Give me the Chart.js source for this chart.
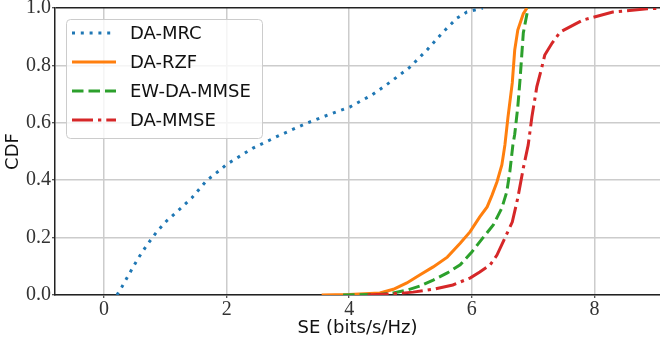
<!DOCTYPE html>
<html>
<head>
<meta charset="utf-8">
<script src="https://cdn.jsdelivr.net/npm/chart.js@4.4.1/dist/chart.umd.min.js"></script>
<style>
  html, body { margin: 0; padding: 0; background: #fff; }
  #wrap { width: 660px; height: 345px; }
</style>
</head>
<body>
<div id="wrap"><canvas id="cdf" width="660" height="345"></canvas></div>
<script>
// valores
const xTicks = [0, 2, 4, 6, 8];
const yTicks = [0, 0.2, 0.4, 0.6, 0.8, 1.0];

const mrcX = [0.21, 0.29, 0.42, 0.56, 0.70, 0.86, 1.02, 1.24, 1.43, 1.68, 1.89, 2.0, 2.43, 2.87, 3.31, 3.65, 4.01, 4.37, 4.67, 4.99, 5.27, 5.53, 5.76, 5.92, 6.18];
const mrcY = [0, 0.028, 0.077, 0.129, 0.174, 0.22, 0.258, 0.30, 0.338, 0.40, 0.435, 0.455, 0.512, 0.557, 0.599, 0.627, 0.655, 0.697, 0.742, 0.794, 0.854, 0.916, 0.965, 0.986, 1.0];

const rzfX = [3.55, 4.0, 4.50, 4.72, 4.94, 5.15, 5.37, 5.60, 5.81, 5.97, 6.13, 6.25, 6.33, 6.41, 6.49, 6.54, 6.59, 6.66, 6.70, 6.75, 6.84, 6.90];
const rzfY = [0, 0.002, 0.007, 0.02, 0.042, 0.07, 0.098, 0.132, 0.18, 0.22, 0.272, 0.307, 0.348, 0.394, 0.453, 0.523, 0.62, 0.739, 0.854, 0.923, 0.98, 1.0];

const ewX = [3.9, 4.50, 4.72, 4.94, 5.15, 5.37, 5.60, 5.81, 6.00, 6.18, 6.35, 6.49, 6.57, 6.62, 6.67, 6.70, 6.75, 6.79, 6.84, 6.90, 6.92];
const ewY = [0, 0.002, 0.007, 0.017, 0.031, 0.052, 0.077, 0.105, 0.15, 0.199, 0.244, 0.303, 0.359, 0.429, 0.523, 0.56, 0.655, 0.76, 0.913, 0.98, 1.0];

const mmseX = [4.3, 4.78, 5.04, 5.37, 5.69, 5.97, 6.13, 6.30, 6.41, 6.54, 6.66, 6.75, 6.84, 6.92, 6.98, 7.06, 7.15, 7.19, 7.31, 7.44, 7.81, 8.30, 8.86, 9.2];
const mmseY = [0, 0.005, 0.01, 0.02, 0.035, 0.059, 0.08, 0.105, 0.139, 0.199, 0.254, 0.338, 0.442, 0.523, 0.62, 0.725, 0.80, 0.836, 0.878, 0.916, 0.958, 0.986, 0.997, 1.0];

const labels = ['DA-MRC', 'DA-RZF', 'EW-DA-MMSE', 'DA-MMSE'];
const colors = ['#1f77b4', '#ff7f0e', '#2ca02c', '#d62728'];
const dashes = [[3, 5.8], [], [11.5, 5], [21, 5, 3.3, 5]];

const pts = (xs, ys) => xs.map((x, i) => ({ x: x, y: ys[i] }));
const series = [pts(mrcX, mrcY), pts(rzfX, rzfY), pts(ewX, ewY), pts(mmseX, mmseY)];

// leyenda dentro del area (como matplotlib)
const legendBox = {
  id: 'legendBox',
  afterDatasetsDraw(chart) {
    const ctx = chart.ctx;
    ctx.save();
    ctx.beginPath();
    ctx.roundRect(66.5, 19.5, 196, 119, 4);
    ctx.fillStyle = 'rgba(255,255,255,0.8)';
    ctx.fill();
    ctx.strokeStyle = '#cccccc';
    ctx.lineWidth = 1;
    ctx.stroke();
    labels.forEach((lab, i) => {
      const y = 33 + i * 29;
      ctx.beginPath();
      ctx.setLineDash(dashes[i]);
      ctx.lineCap = 'butt';
      ctx.strokeStyle = colors[i];
      ctx.lineWidth = 3;
      ctx.moveTo(72, y);
      ctx.lineTo(116, y);
      ctx.stroke();
      ctx.setLineDash([]);
      ctx.fillStyle = '#111';
      ctx.font = '18px "DejaVu Sans"';
      ctx.textBaseline = 'middle';
      ctx.textAlign = 'left';
      ctx.fillText(lab, 130, y + 1);
    });
    ctx.restore();
  }
};

new Chart(document.getElementById('cdf'), {
  type: 'line',
  data: {
    datasets: series.map((d, i) => ({
      label: labels[i],
      data: d,
      borderColor: colors[i],
      backgroundColor: colors[i],
      borderWidth: 3,
      borderDash: dashes[i],
      pointRadius: 0,
      tension: 0,
      fill: false,
      order: 4 - i
    }))
  },
  options: {
    responsive: false,
    animation: false,
    devicePixelRatio: 1,
    layout: { padding: { top: 8, right: 0, left: 0, bottom: 0 } },
    plugins: { legend: { display: false }, tooltip: { enabled: false } },
    scales: {
      x: {
        type: 'linear',
        min: -0.8,
        max: 9.07,
        afterBuildTicks: s => { s.ticks = xTicks.map(v => ({ value: v })); },
        afterFit: s => { s.height = 50; s.paddingLeft = 0; s.paddingRight = 0; },
        grid: { color: '#cccccc', lineWidth: 1.5, tickLength: 3, tickColor: '#222', tickWidth: 1 },
        border: { color: '#222', width: 1.5 },
        ticks: { color: '#333', padding: 0, font: { family: 'Liberation Serif', size: 20 }, callback: v => String(v) },
        title: { display: true, text: 'SE (bits/s/Hz)', color: '#111', font: { family: 'DejaVu Sans', size: 18 }, padding: { top: 0, bottom: 6 } }
      },
      y: {
        min: 0,
        max: 1,
        afterBuildTicks: s => { s.ticks = yTicks.map(v => ({ value: v })); },
        afterFit: s => { s.width = 55; s.paddingTop = 0; s.paddingBottom = 0; },
        grid: {
          color: c => (c.tick && c.tick.value === 1 ? '#222' : '#cccccc'),
          lineWidth: 1.5, tickLength: 3, tickColor: '#222', tickWidth: 1
        },
        border: { color: '#222', width: 1.5 },
        ticks: { color: '#333', padding: 1, font: { family: 'Liberation Serif', size: 20 }, callback: v => v.toFixed(1) },
        title: { display: true, text: 'CDF', color: '#111', font: { family: 'DejaVu Sans', size: 18 }, padding: { top: 3, bottom: 0 } }
      }
    }
  },
  plugins: [legendBox]
});
</script>
</body>
</html>
